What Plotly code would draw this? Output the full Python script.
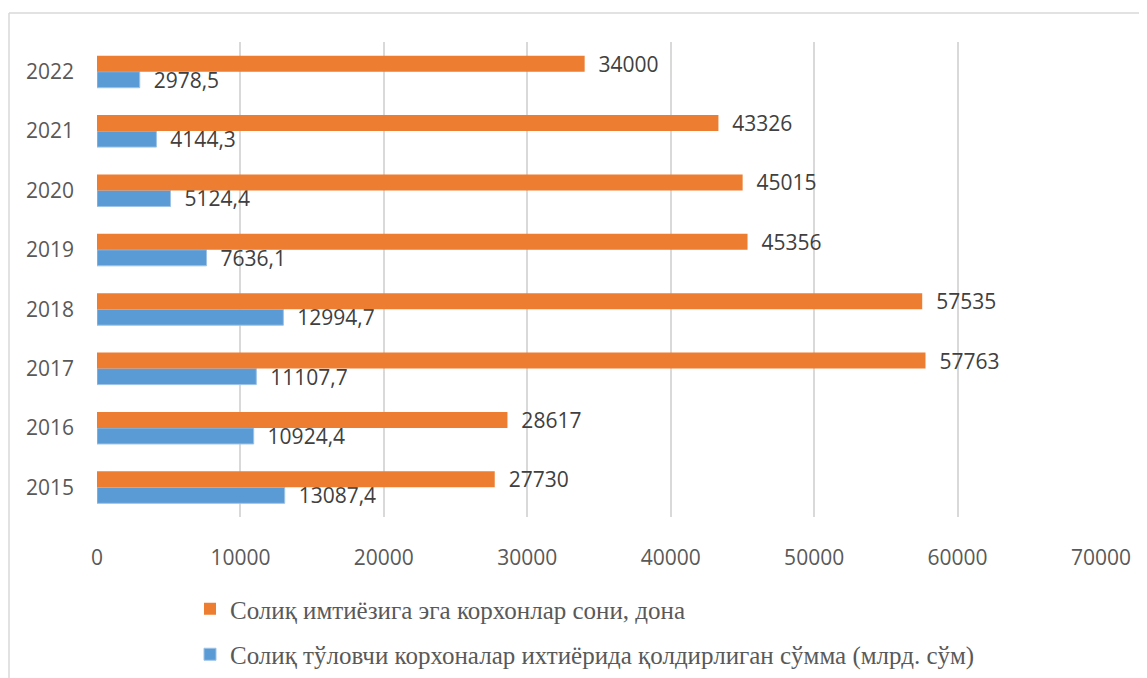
import plotly.graph_objects as go

years = ["2015", "2016", "2017", "2018", "2019", "2020", "2021", "2022"]
enterprises = [27730, 28617, 57763, 57535, 45356, 45015, 43326, 34000]
amounts = [13087.4, 10924.4, 11107.7, 12994.7, 7636.1, 5124.4, 4144.3, 2978.5]
x_ticks = [0, 10000, 20000, 30000, 40000, 50000, 60000, 70000]

name_orange = "Солиқ имтиёзига эга корхонлар сони, дона"
name_blue = "Солиқ тўловчи корхоналар ихтиёрида қолдирлиган сўмма (млрд. сўм)"

pad = "\u00a0\u00a0"
blue_text = [pad + f"{v:.1f}".replace(".", ",") for v in amounts]
orange_text = [pad + f"{v}" for v in enterprises]

label_font = dict(family="Open Sans", size=21, color="#404040")

fig = go.Figure()
fig.add_trace(go.Bar(
    y=years, x=amounts, orientation="h", name=name_blue,
    marker=dict(color="#5B9BD5", line=dict(color="#9DC3E6", width=1)),
    text=blue_text, textposition="outside", textfont=label_font,
    constraintext="none", cliponaxis=False, legendgroup="b", legendrank=2,
))
fig.add_trace(go.Bar(
    y=years, x=enterprises, orientation="h", name=name_orange,
    marker=dict(color="#ED7D31", line=dict(width=0)),
    text=orange_text, textposition="outside", textfont=label_font,
    constraintext="none", cliponaxis=False, legendgroup="a", legendrank=1,
))

# page body has an 8px margin; the figure is sized/positioned to compensate
OFF = 8
W, H = 1147 - OFF, 678 - OFF
ml, mr, mt, mb = 97 - OFF, 46, 42 - OFF, 161
pw, ph = W - ml - mr, H - mt - mb

def px_x(p):
    return (p - OFF - ml) / pw

def px_y(p):
    return 1 - (p - OFF - mt) / ph

fig.update_layout(
    width=W, height=H,
    margin=dict(l=ml, r=mr, t=mt, b=mb, autoexpand=False),
    paper_bgcolor="white", plot_bgcolor="white",
    barmode="group", bargap=0.46, bargroupgap=0,
    xaxis=dict(
        range=[0, 70000], tickvals=x_ticks, ticktext=[str(t) for t in x_ticks],
        showgrid=True, gridcolor="#D9D9D9", gridwidth=1.5,
        zeroline=False, showline=False, ticks="",
        tickfont=dict(family="Open Sans", size=21, color="#595959"),
        ticklabelstandoff=26,
    ),
    yaxis=dict(
        type="category", categoryorder="array", categoryarray=years,
        showgrid=False, zeroline=False, showline=False, ticks="",
        tickfont=dict(family="Open Sans", size=21, color="#595959"),
        ticklabelstandoff=22,
    ),
    legend=dict(
        orientation="v", traceorder="grouped",
        x=px_x(190), y=px_y(586), xanchor="left", yanchor="top",
        font=dict(family="Liberation Serif", size=25, color="#595959"),
        tracegroupgap=10, itemwidth=30,
        bgcolor="rgba(0,0,0,0)",
    ),
    showlegend=True,
    shapes=[
        dict(type="line", xref="paper", yref="paper",
             x0=px_x(9), x1=px_x(1147), y0=px_y(13), y1=px_y(13),
             line=dict(color="#D9D9D9", width=1.5)),
        dict(type="line", xref="paper", yref="paper",
             x0=px_x(9), x1=px_x(9), y0=px_y(13), y1=px_y(678),
             line=dict(color="#D9D9D9", width=1.5)),
    ],
)

fig.write_html("out.html")
